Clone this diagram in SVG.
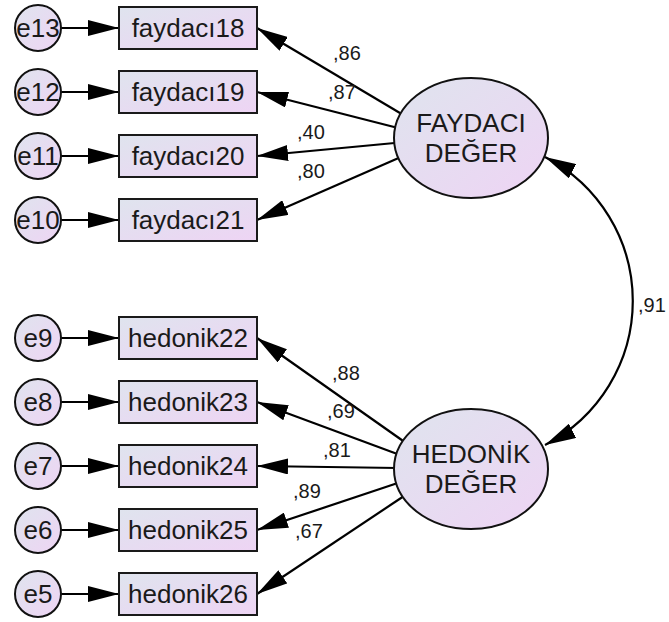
<svg xmlns="http://www.w3.org/2000/svg" width="669" height="622" viewBox="0 0 669 622">
<style>
.bx{fill:url(#g);stroke:#1a1a1a;stroke-width:2}
.el{fill:url(#g);stroke:#111;stroke-width:2}
.t{font-family:"Liberation Sans",Arial,sans-serif;font-size:26px;fill:#1a1a1a;text-anchor:middle}
.lb{font-family:"Liberation Sans",Arial,sans-serif;font-size:20px;fill:#1a1a1a}
.ln{stroke:#000;stroke-width:2.2;fill:none;marker-end:url(#ah)}
.cv{stroke:#000;stroke-width:2.2;fill:none;marker-start:url(#ah);marker-end:url(#ah)}
</style>
<defs>
<linearGradient id="g" x1="0" y1="0" x2="1" y2="1">
<stop offset="0" stop-color="#dfe4ee"/>
<stop offset="1" stop-color="#eed4f4"/>
</linearGradient>
<marker id="ah" viewBox="0 0 31 16" refX="31" refY="8" markerWidth="31" markerHeight="16" markerUnits="userSpaceOnUse" orient="auto-start-reverse">
<path d="M0,0 L31,8 L0,16 z" fill="#000"/>
</marker>
</defs>
<g id="connectors">
<line class="ln" x1="61" y1="28" x2="119" y2="28"/>
<line class="ln" x1="61" y1="92" x2="119" y2="92"/>
<line class="ln" x1="61" y1="156" x2="119" y2="156"/>
<line class="ln" x1="61" y1="220" x2="119" y2="220"/>
<line class="ln" x1="61" y1="338" x2="119" y2="338"/>
<line class="ln" x1="61" y1="402" x2="119" y2="402"/>
<line class="ln" x1="61" y1="466" x2="119" y2="466"/>
<line class="ln" x1="61" y1="530" x2="119" y2="530"/>
<line class="ln" x1="61" y1="594" x2="119" y2="594"/>
<line class="ln" x1="405" y1="116" x2="257" y2="28"/>
<line class="ln" x1="400" y1="128.5" x2="257" y2="92"/>
<line class="ln" x1="400" y1="142.5" x2="257" y2="156"/>
<line class="ln" x1="402" y1="156.5" x2="257" y2="220"/>
<line class="ln" x1="406" y1="443" x2="257" y2="338"/>
<line class="ln" x1="400" y1="455" x2="257" y2="402"/>
<line class="ln" x1="398" y1="468" x2="257" y2="466"/>
<line class="ln" x1="400" y1="482.3" x2="257" y2="530"/>
<line class="ln" x1="407" y1="494" x2="257" y2="594"/>
<path class="cv" d="M545,157 A162,162 0 0 1 545,445"/>
<text class="lb" x="333" y="60">,86</text>
<text class="lb" x="328" y="99">,87</text>
<text class="lb" x="297" y="139">,40</text>
<text class="lb" x="297" y="178">,80</text>
<text class="lb" x="332" y="380">,88</text>
<text class="lb" x="327" y="418">,69</text>
<text class="lb" x="323" y="457">,81</text>
<text class="lb" x="293" y="498">,89</text>
<text class="lb" x="295" y="538">,67</text>
<text class="lb" x="638" y="312">,91</text>
</g>
<g id="e13"><circle class="el" cx="38" cy="28" r="23"/><text class="t" x="38" y="37">e13</text></g>
<g id="e12"><circle class="el" cx="38" cy="92" r="23"/><text class="t" x="38" y="101">e12</text></g>
<g id="e11"><circle class="el" cx="38" cy="156" r="23"/><text class="t" x="38" y="165">e11</text></g>
<g id="e10"><circle class="el" cx="38" cy="220" r="23"/><text class="t" x="38" y="229">e10</text></g>
<g id="e9"><circle class="el" cx="38" cy="338" r="23"/><text class="t" x="38" y="347">e9</text></g>
<g id="e8"><circle class="el" cx="38" cy="402" r="23"/><text class="t" x="38" y="411">e8</text></g>
<g id="e7"><circle class="el" cx="38" cy="466" r="23"/><text class="t" x="38" y="475">e7</text></g>
<g id="e6"><circle class="el" cx="38" cy="530" r="23"/><text class="t" x="38" y="539">e6</text></g>
<g id="e5"><circle class="el" cx="38" cy="594" r="23"/><text class="t" x="38" y="603">e5</text></g>
<g id="faydaci18"><rect class="bx" x="119" y="7" width="138" height="42"/><text class="t" x="188" y="37">faydacı18</text></g>
<g id="faydaci19"><rect class="bx" x="119" y="71" width="138" height="42"/><text class="t" x="188" y="101">faydacı19</text></g>
<g id="faydaci20"><rect class="bx" x="119" y="135" width="138" height="42"/><text class="t" x="188" y="165">faydacı20</text></g>
<g id="faydaci21"><rect class="bx" x="119" y="199" width="138" height="42"/><text class="t" x="188" y="229">faydacı21</text></g>
<g id="hedonik22"><rect class="bx" x="119" y="317" width="138" height="42"/><text class="t" x="188" y="347">hedonik22</text></g>
<g id="hedonik23"><rect class="bx" x="119" y="381" width="138" height="42"/><text class="t" x="188" y="411">hedonik23</text></g>
<g id="hedonik24"><rect class="bx" x="119" y="445" width="138" height="42"/><text class="t" x="188" y="475">hedonik24</text></g>
<g id="hedonik25"><rect class="bx" x="119" y="509" width="138" height="42"/><text class="t" x="188" y="539">hedonik25</text></g>
<g id="hedonik26"><rect class="bx" x="119" y="573" width="138" height="42"/><text class="t" x="188" y="603">hedonik26</text></g>
<g id="faydaci_deger"><ellipse class="el" cx="471" cy="138" rx="77" ry="60"/><text class="t" x="471" y="132">FAYDACI</text><text class="t" x="471" y="162">DEĞER</text></g>
<g id="hedonik_deger"><ellipse class="el" cx="471" cy="469" rx="77" ry="60"/><text class="t" x="471" y="463">HEDONİK</text><text class="t" x="471" y="493">DEĞER</text></g>
</svg>
